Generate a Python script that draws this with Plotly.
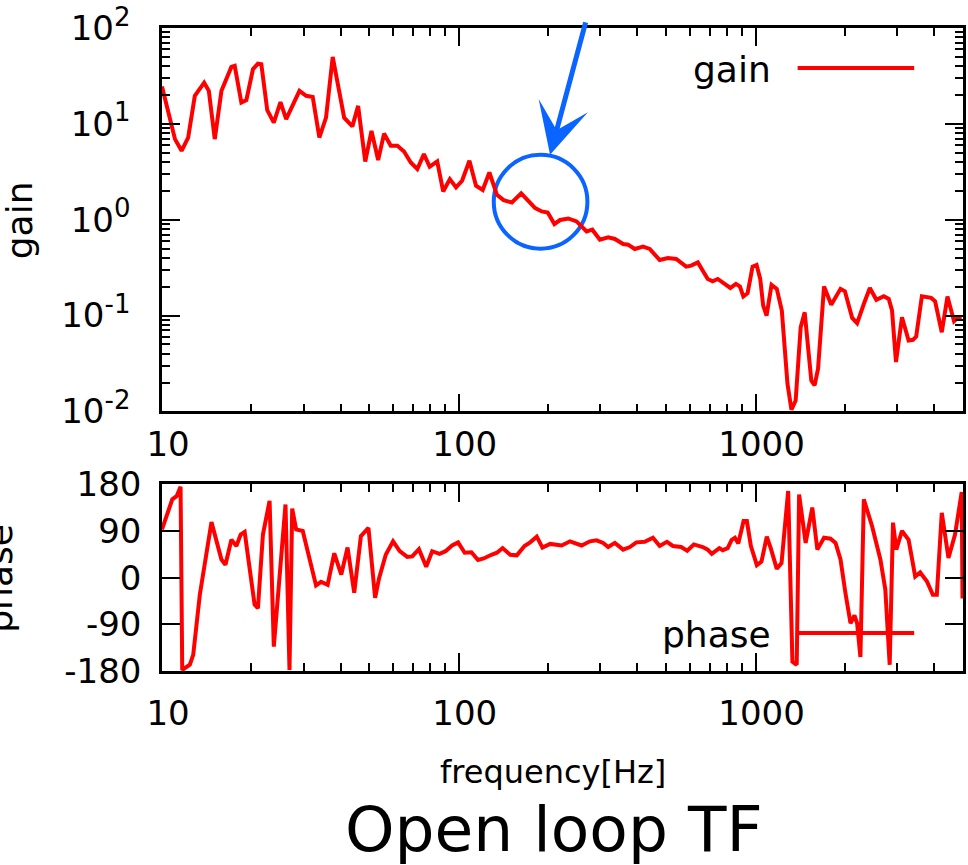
import numpy as np
import plotly.graph_objects as go

# ---------------- data ----------------
gain_freq = [10, 11.06, 11.64, 12.25, 12.90, 13.87, 14.38, 15.06, 15.86, 17.13, 17.58, 18.51, 19.24, 20.25,
             21.05, 21.61, 22.63, 23.81, 25.07, 26.21, 29.05, 30.6, 32.2, 33.9, 35.7, 37.6, 41.1, 43.8, 45.8,
             48.4, 50.8, 53.5, 56.0, 59.0, 62.1, 65.4, 68.9, 72.5, 76.3, 79.8, 84.6, 88.6, 93.3, 97.9, 102.6,
             108.6, 114.3, 120.4, 126.8, 134.5, 141.6, 151.0, 162.3, 171.8, 180.9, 190.4, 199.4, 210.0, 219.5,
             233.9, 249.5, 269.6, 281.8, 298.9, 318.8, 335.7, 357.9, 372.0, 391.7, 417.8, 439.9, 475.3, 506.7,
             540.2, 583.7, 606.7, 639, 690, 717, 745.7, 785, 822.6, 859, 886, 909.4, 940.1, 977, 1008, 1037,
             1061, 1089, 1132, 1179, 1226, 1281, 1321, 1365, 1419, 1464, 1541, 1581, 1624, 1701, 1799, 1933,
             2000, 2116, 2199, 2316, 2427, 2553, 2704, 2810, 2883, 2973, 3114, 3279, 3390, 3477, 3634, 3905,
             4027, 4241, 4432, 4665, 4789, 4950]
gain = [24.5, 6.93, 5.23, 7.20, 19.6, 26.9, 22.1, 6.93, 22.1, 39.2, 40.2, 16.7, 17.7, 37.1,
        42.5, 41.9, 13.9, 10.3, 16.9, 11.2, 22.1, 19.6, 19.1, 7.20, 11.6, 49.9, 11.6, 9.42, 15.4,
        4.05, 8.45, 4.19, 7.92, 5.90, 5.90, 5.14, 3.95, 3.37, 4.83, 3.57, 4.05, 1.97, 2.65, 2.17, 2.55,
        4.12, 2.26, 2.04, 3.11, 1.82, 1.60, 1.51, 1.88, 1.58, 1.32, 1.22, 1.19, 0.902, 0.993,
        1.03, 0.96, 0.755, 0.787, 0.619, 0.655, 0.630, 0.558, 0.549, 0.495, 0.524, 0.495, 0.380, 0.399,
        0.390, 0.324, 0.332, 0.359, 0.241, 0.228, 0.241, 0.214, 0.194, 0.214, 0.201, 0.158, 0.171, 0.324, 0.337, 0.241,
        0.127, 0.100, 0.209, 0.190, 0.113, 0.0194, 0.0104, 0.0130, 0.0755, 0.108, 0.0210, 0.0187, 0.0279, 0.201, 0.130, 0.190,
        0.179, 0.0946, 0.0832, 0.132, 0.194, 0.146, 0.159, 0.149, 0.113, 0.0327, 0.0960, 0.0549, 0.0558, 0.0604, 0.159, 0.153,
        0.141, 0.0670, 0.158, 0.0873, 0.0946, 0.0946]

phase_freq = [10, 10.83, 11.20, 11.55, 11.70, 12.10, 12.41, 12.74, 13.41, 14.68, 15.86, 16.36, 17.13, 17.81,
              18.41, 18.99, 20.51, 21.05, 21.88, 23.04, 23.81, 26.07, 26.89, 27.46, 28.31, 29.80, 33.04, 34.35,
              36.15, 38.06, 40.18, 42.19, 44.43, 46.79, 49.62, 52.25, 53.89, 56.75, 60.05, 63.24, 67.06, 69.70,
              73.41, 77.67, 81.35, 86.13, 90.25, 94.95, 99.47, 104.7, 110.3, 116.1, 121.3, 128.8, 134.5, 140.5,
              149.1, 156.9, 166.5, 174.0, 183.2, 191.4, 203.2, 222.2, 237.0, 259.3, 276.7, 291.1, 306.6, 318.8,
              335.7, 357.9, 377.0, 396.6, 423.2, 451.1, 475.3, 502.8, 526.6, 561.5, 588.3, 619.5, 663.9, 690.1,
              711.8, 755.3, 775.0, 805.4, 830.8, 852.2, 874.9, 911.2, 934.9, 964.5, 1010, 1047, 1091, 1125, 1179,
              1223, 1288, 1331, 1376, 1402, 1475, 1553, 1615, 1701, 1789, 1860, 1933, 2009, 2089, 2154, 2199,
              2256, 2316, 2470, 2634, 2737, 2831, 2905, 2980, 3114, 3279, 3451, 3587, 3778, 3957, 4081, 4241,
              4467, 4700, 4950, 4980]
phase = [93, 151, 157, 175, -178, -172, -168, -149, -33, 107, 35, 25, 73, 61,
         83, 88, -52, -59, 83, 148, -133, 141, -178, 133, 93, 90, -15, -8,
         -14, 47, 6, 58, -29, 80, 96, -39, -1, 44, 70, 51, 40, 41,
         55, 21, 51, 46, 51, 62, 68, 48, 49, 34, 37, 44, 48, 57,
         44, 43, 61, 68, 79, 58, 65, 62, 70, 62, 70, 72, 67, 59,
         67, 54, 59, 68, 69, 77, 61, 69, 61, 59, 52, 64, 59, 54,
         46, 57, 53, 57, 73, 77, 66, 109, 109, 61, 24, 31, 79, 57, 17,
         28, 167, -162, -168, 160, 67, 135, 54, 77, 75, 67, 35, -30, -88, -73,
         -88, -153, 151, 99, 35, -23, -168, 106, 54, 90, 73, 2, 10, -7, -33, -33, 125,
         38, 83, 165, -40]

assert len(gain_freq) == len(gain)
assert len(phase_freq) == len(phase)

x_tick_vals = [10, 100, 1000]
x_tick_text = ["10", "100", "1000"]
x_minor_vals = [m * d for d in (10, 100, 1000) for m in range(2, 10) if m * d < 5000]
gain_tick_vals = [0.01, 0.1, 1, 10, 100]
gain_exponents = ["-2", "-1", "0", "1", "2"]
phase_tick_vals = [-180, -90, 0, 90, 180]
phase_tick_text = ["-180", "-90", "0", "90", "180"]
gain_minor_vals = [m * d for d in (0.01, 0.1, 1, 10) for m in range(2, 10)]

# ---------------- figure ----------------
FONT = "DejaVu Sans, Verdana, sans-serif"
RED = "#ff0000"
BLUE = "#0a64ff"
TICK_SIZE = 34

gain_tick_text = ["10<sup><span style='font-size:26px'>%s</span></sup>" % e for e in gain_exponents]

fig = go.Figure()
fig.add_trace(go.Scatter(x=gain_freq, y=gain, mode="lines", line=dict(color=RED, width=4),
                         xaxis="x", yaxis="y", showlegend=False, hoverinfo="skip"))
fig.add_trace(go.Scatter(x=phase_freq, y=phase, mode="lines", line=dict(color=RED, width=4),
                         xaxis="x2", yaxis="y2", showlegend=False, hoverinfo="skip"))

common = dict(showline=True, linecolor="black", linewidth=2.5, mirror="ticks", ticks="inside",
              ticklen=18, tickwidth=2, tickcolor="black", showgrid=False, zeroline=False,
              tickfont=dict(size=TICK_SIZE, color="black", family=FONT))

xminor = dict(ticks="inside", ticklen=8, tickwidth=2, tickcolor="black", tickvals=x_minor_vals, showgrid=False)

fig.update_layout(
    width=968, height=865, autosize=False,
    margin=dict(l=162, r=2, t=27, b=194),
    paper_bgcolor="white", plot_bgcolor="white",
    font=dict(family=FONT, color="black"),
    xaxis=dict(type="log", range=[1, np.log10(5000)], domain=[0, 1], anchor="y",
               tickvals=x_tick_vals, ticktext=x_tick_text, minor=xminor,
               ticklabelshift=6, ticklabelstandoff=1, **common),
    yaxis=dict(type="log", range=[-2, 2], domain=[0.4037, 1], anchor="x",
               tickvals=gain_tick_vals, ticktext=gain_tick_text,
               minor=dict(ticks="inside", ticklen=8, tickwidth=2, tickcolor="black",
                          tickvals=gain_minor_vals, showgrid=False),
               ticklabelstandoff=22, **common),
    xaxis2=dict(type="log", range=[1, np.log10(5000)], domain=[0, 1], anchor="y2",
                tickvals=x_tick_vals, ticktext=x_tick_text, minor=xminor,
                ticklabelshift=6, ticklabelstandoff=10, **common),
    yaxis2=dict(range=[-180, 180], domain=[0, 0.2904], anchor="x2",
                tickvals=phase_tick_vals, ticktext=phase_tick_text,
                ticklabelstandoff=11, **common),
)

def px_x(p):
    return (p - 162) / 804.0

def px_y(p):
    return (671 - p) / 644.0

annotations = [
    dict(text="gain", x=px_x(19), y=px_y(220), xref="paper", yref="paper", textangle=-90,
         showarrow=False, xanchor="center", yanchor="middle", font=dict(size=36, family=FONT)),
    dict(text="phase", x=px_x(-1), y=px_y(578), xref="paper", yref="paper", textangle=-90,
         showarrow=False, xanchor="center", yanchor="middle", font=dict(size=36, family=FONT)),
    dict(text="frequency[Hz]", x=px_x(554), y=px_y(772), xref="paper", yref="paper",
         showarrow=False, xanchor="center", yanchor="middle", font=dict(size=32, family=FONT)),
    dict(text="Open loop TF", x=px_x(555), y=px_y(830), xref="paper", yref="paper",
         showarrow=False, xanchor="center", yanchor="middle", font=dict(size=63, family=FONT)),
    dict(text="gain", x=px_x(775), y=px_y(68.5), xref="paper", yref="paper",
         showarrow=False, xanchor="right", yanchor="middle", font=dict(size=36, family=FONT)),
    dict(text="phase", x=px_x(775), y=px_y(634.5), xref="paper", yref="paper",
         showarrow=False, xanchor="right", yanchor="middle", font=dict(size=36, family=FONT)),
    dict(text="", x=px_x(551.5), y=px_y(154), xref="paper", yref="paper",
         showarrow=True, ax=36, ay=-134, axref="pixel", ayref="pixel",
         arrowhead=3, arrowsize=1.7, arrowwidth=5, arrowcolor=BLUE),
]

shapes = [
    dict(type="circle", xref="paper", yref="paper", x0=px_x(495), x1=px_x(589),
         y0=px_y(248), y1=px_y(154), line=dict(color=BLUE, width=4), layer="below"),
    dict(type="line", xref="paper", yref="paper", x0=px_x(800), x1=px_x(917),
         y0=px_y(67), y1=px_y(67), line=dict(color=RED, width=4)),
    dict(type="line", xref="paper", yref="paper", x0=px_x(800), x1=px_x(917),
         y0=px_y(633), y1=px_y(633), line=dict(color=RED, width=4)),
]

fig.update_layout(annotations=annotations, shapes=shapes)
fig.write_html("out.html", config={"displayModeBar": False},
               post_script="document.body.style.margin='0px';document.body.style.overflow='hidden';")
